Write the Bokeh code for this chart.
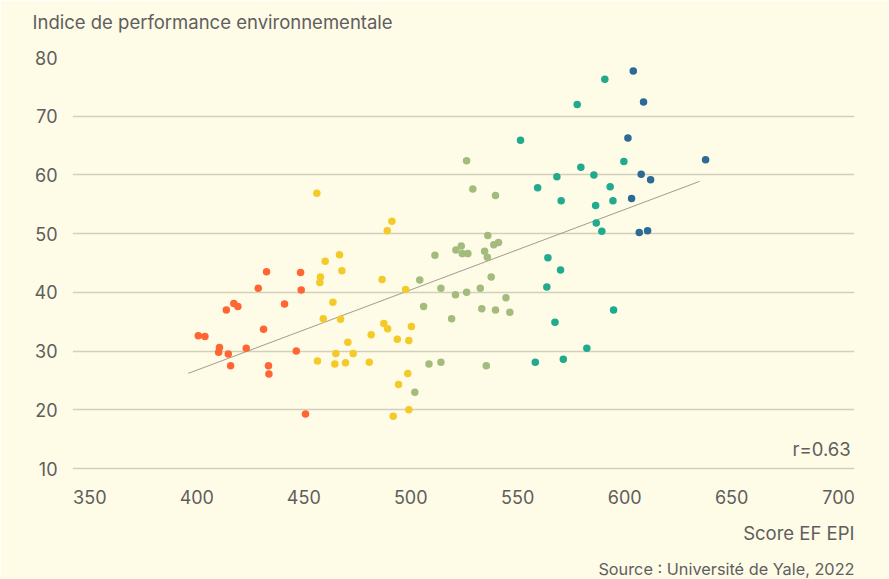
from bokeh.plotting import figure
from bokeh.models import Range1d, FixedTicker, Label, Title
from bokeh.embed import file_html
from bokeh.resources import INLINE

# ---- data ----
red_x = [428.7, 448.8, 417.3, 419.2, 413.8, 441.0, 431.2, 400.7, 403.8, 410.6,
         410.2, 414.7, 423.1, 415.8, 433.5, 433.7, 446.5, 450.8, 432.6, 448.5]
red_y = [40.7, 40.4, 38.1, 37.6, 37.0, 38.0, 33.7, 32.6, 32.5, 30.6,
         29.8, 29.5, 30.5, 27.5, 27.5, 26.1, 30.0, 19.3, 43.5, 43.4]

yel_x = [456.1, 491.2, 489.0, 466.7, 460.0, 467.8, 457.8, 457.5, 486.6, 497.6,
         463.6, 459.1, 467.2, 487.4, 489.2, 500.3, 481.5, 470.6, 493.7, 499.1,
         465.0, 473.1, 456.4, 464.5, 469.5, 480.6, 498.6, 494.3, 499.1, 491.8]
yel_y = [56.9, 52.1, 50.5, 46.4, 45.3, 43.7, 42.6, 41.7, 42.2, 40.5,
         38.3, 35.5, 35.4, 34.7, 33.8, 34.2, 32.8, 31.5, 32.0, 31.8,
         29.6, 29.6, 28.3, 27.8, 28.0, 28.1, 26.2, 24.3, 20.0, 18.9]

grn_x = [526.1, 529.0, 539.6, 536.0, 523.6, 521.1, 524.1, 526.7, 534.5, 535.8,
         538.8, 541.0, 511.3, 504.2, 537.6, 514.1, 532.5, 520.9, 526.1, 544.5,
         506.0, 533.2, 539.6, 546.3, 519.1, 508.5, 514.1, 535.3, 501.9]
grn_y = [62.4, 57.6, 56.5, 49.7, 47.9, 47.2, 46.6, 46.6, 47.0, 46.0,
         48.1, 48.5, 46.3, 42.1, 42.6, 40.7, 40.7, 39.6, 40.0, 39.1,
         37.6, 37.2, 37.0, 36.6, 35.5, 27.8, 28.1, 27.5, 23.0]

teal_x = [599.6, 579.5, 568.3, 585.6, 559.3, 593.2, 570.3, 586.4, 594.5, 586.7,
          589.3, 564.1, 570.0, 563.6, 594.8, 567.4, 582.3, 558.2, 571.3, 590.7,
          577.8, 551.3]
teal_y = [62.3, 61.3, 59.7, 60.0, 57.8, 58.0, 55.6, 54.8, 55.6, 51.8,
          50.4, 45.9, 43.8, 40.9, 37.0, 34.9, 30.5, 28.1, 28.6, 76.3,
          72.0, 65.9]

blue_x = [604.0, 608.8, 601.5, 637.8, 607.7, 612.1, 603.2, 606.8, 610.7]
blue_y = [77.7, 72.4, 66.3, 62.6, 60.1, 59.2, 56.0, 50.2, 50.5]

trend_x = [396.0, 635.0]
trend_y = [26.2, 58.9]

x_ticks = [350, 400, 450, 500, 550, 600, 650, 700]
y_ticks = [10, 20, 30, 40, 50, 60, 70, 80]

y_title = "Indice de performance environnementale"
x_title = "Score EF EPI"
source = "Source : Université de Yale, 2022"
r_text = "r=0.63"

# ---- style ----
BG = "#fefbe6"
FONT = "Inter"
TXT = "#5e5e5e"

p = figure(width=889, height=579, output_backend="svg", toolbar_location=None,
           x_range=Range1d(341.9, 707.4), y_range=Range1d(9.66, 80),
           min_border_left=72, min_border_right=35, min_border_top=57,
           min_border_bottom=109)
p.background_fill_color = BG
p.border_fill_color = BG
p.outline_line_color = None

p.xgrid.grid_line_color = None
p.ygrid.grid_line_color = "#d3cfbd"
p.ygrid.grid_line_width = 1.5
p.ygrid.ticker = FixedTicker(ticks=y_ticks)

for ax in (p.xaxis[0], p.yaxis[0]):
    ax.axis_line_color = None
    ax.major_tick_line_color = None
    ax.minor_tick_line_color = None
    ax.major_tick_out = 0
    ax.major_tick_in = 0
    ax.major_label_text_font = FONT
    ax.major_label_text_font_size = "18px"
    ax.major_label_text_color = TXT
p.xaxis[0].ticker = FixedTicker(ticks=x_ticks)
p.yaxis[0].ticker = FixedTicker(ticks=y_ticks)
p.xaxis[0].major_label_standoff = 19
p.yaxis[0].major_label_standoff = 15

p.line(trend_x, trend_y, line_color="#a09d8d", line_width=1)

series = [
    (red_x, red_y, "#ff6633"),
    (yel_x, yel_y, "#f4ca28"),
    (grn_x, grn_y, "#a3bc7d"),
    (teal_x, teal_y, "#20aa8e"),
    (blue_x, blue_y, "#2d6a96"),
]
for xs, ys, c in series:
    p.scatter(xs, ys, size=7.5, fill_color=c, line_color=None)

p.add_layout(Label(x=705.6, y=13.4, text=r_text, text_align="right",
                   text_baseline="middle", text_font=FONT,
                   text_font_size="18.5px", text_color=TXT))

# outermost: the y-axis title; inner spacer keeps it clear of the frame
p.title = Title(text=y_title, align="left", offset=-40, standoff=0,
                text_font=FONT, text_font_size="18.5px",
                text_font_style="normal", text_color=TXT)
p.add_layout(Title(text=" ", text_font_size="1px", standoff=22), "above")

p.add_layout(Title(text=x_title, align="right", standoff=26, text_font=FONT,
                   text_font_size="18.5px", text_font_style="normal",
                   text_color=TXT), "below")
p.add_layout(Title(text=source, align="right", standoff=0, text_font=FONT,
                   text_font_size="16.3px", text_font_style="normal",
                   text_color=TXT), "below")

open("out.html", "w").write(file_html(p, INLINE))
